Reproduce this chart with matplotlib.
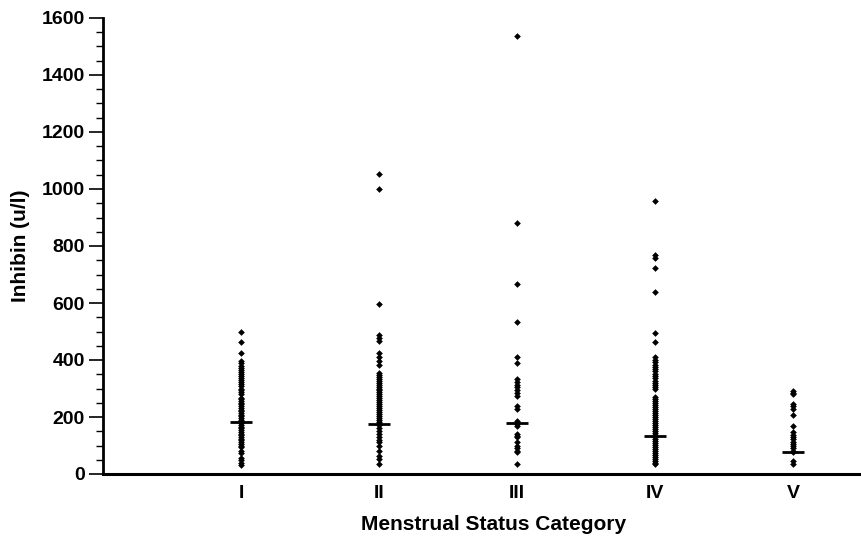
import matplotlib
matplotlib.use("Agg")
import matplotlib.pyplot as plt
from matplotlib.ticker import MultipleLocator

plt.rcParams['font.family'] = ['Liberation Sans', 'DejaVu Sans']

categories = ["I", "II", "III", "IV", "V"]

group_I = [498, 463, 425, 396, 388, 380, 372, 365, 358, 351, 344, 337, 330, 322, 315,
           308, 300, 293, 286, 279, 268, 262, 256, 250, 244, 238, 232, 226, 220, 214,
           208, 202, 196, 190, 184, 178, 172, 166, 160, 154, 148, 142, 136, 130, 124,
           118, 112, 106, 100, 94, 81, 74, 56, 48, 40, 33]
group_II = [1051, 1000, 597, 489, 478, 466, 426, 412, 398, 384, 356, 349, 342, 335, 328,
            321, 314, 307, 300, 293, 286, 279, 272, 265, 258, 251, 244, 237, 230, 223,
            216, 209, 202, 195, 188, 181, 171, 161, 151, 141, 131, 121, 111, 99, 81,
            64, 52, 35]
group_III = [1538, 881, 666, 532, 411, 390, 332, 322, 314, 304, 294, 284, 274, 239, 227,
             186, 180, 175, 169, 140, 135, 129, 111, 100, 90, 82, 76, 35]
group_IV = [957, 768, 758, 723, 638, 495, 462, 409, 400, 392, 384, 376, 368, 360, 352,
            344, 336, 328, 320, 312, 304, 297, 269, 262, 255, 248, 241, 234, 227, 220,
            213, 206, 199, 192, 185, 178, 171, 164, 157, 150, 143, 136, 129, 122, 115,
            108, 101, 94, 87, 80, 73, 66, 59, 52, 45, 38, 35]
group_V = [291, 283, 279, 245, 237, 227, 207, 169, 146, 138, 130, 122, 114, 106, 98,
           90, 82, 76, 46, 35]
medians = [184, 177, 180, 135, 76]

groups = [group_I, group_II, group_III, group_IV, group_V]
yticks = [0, 200, 400, 600, 800, 1000, 1200, 1400, 1600]

fig = plt.figure(figsize=(8.62, 5.44), dpi=100)
ax = fig.add_axes([103/862, 1 - 474/544, 1 - 103/862, (474 - 18)/544])

for i, vals in enumerate(groups):
    xpos = [i + 1] * len(vals)
    ax.plot(xpos, vals, linestyle='none', marker='D', markersize=3.4,
            color='black', markeredgewidth=0)
    ax.hlines(medians[i], i + 1 - 0.078, i + 1 + 0.078, colors='black', linewidth=2.0)

ax.set_xlim(0, 5.5)
ax.set_ylim(0, 1600)
ax.set_xticks(range(1, 6))
ax.set_xticklabels(categories, fontsize=14, fontweight='bold')
ax.set_yticks(yticks)
ax.set_yticklabels([str(v) for v in yticks], fontsize=14, fontweight='bold')
ax.yaxis.set_minor_locator(MultipleLocator(50))

ax.tick_params(axis='x', length=0, pad=8)
ax.tick_params(axis='y', which='major', length=10, width=1.2, pad=3, direction='out')
ax.tick_params(axis='y', which='minor', length=5, width=1.0, direction='out')

for s in ['top', 'right']:
    ax.spines[s].set_visible(False)
ax.spines['left'].set_linewidth(2.0)
ax.spines['bottom'].set_linewidth(2.2)

ax.set_ylabel("Inhibin (u/l)", fontsize=15, fontweight='bold')
ax.yaxis.set_label_coords(-0.096, 0.5)
ax.set_xlabel("Menstrual Status Category", fontsize=15, fontweight='bold')
ax.xaxis.set_label_coords(0.514, -0.09)

fig.savefig("out.png", dpi=100)
